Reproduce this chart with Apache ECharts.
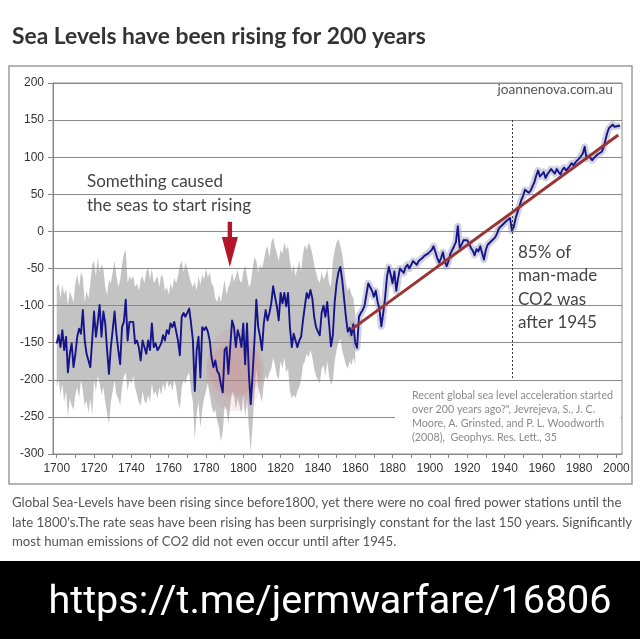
<!DOCTYPE html>
<html>
<head>
<meta charset="utf-8">
<script src="https://cdn.jsdelivr.net/npm/echarts@6/dist/echarts.min.js"></script>
<style>html,body{margin:0;padding:0;background:#fff;}#c{width:640px;height:639px;}</style>
</head>
<body>
<div id="c"></div>
<script>
// ---------------- DATA ----------------
const titleText = 'Sea Levels have been rising for 200 years';
const yTicks = [-300, -250, -200, -150, -100, -50, 0, 50, 100, 150, 200];
const xLabelYears = [1700,1720,1740,1760,1780,1800,1820,1840,1860,1880,1900,1920,1940,1960,1980,2000];
const xTickYears = [1700,1710,1720,1730,1740,1750,1760,1770,1780,1790,1800,1810,1820,1830,1840,1850,1860,1870,1880,1890,1900,1910,1920,1930,1940,1950,1960,1970,1980,1990,2000];

// yearly reconstruction 1700..1839 (mm)
const earlyStartYear = 1700;
const earlySeaLevel = [
 -151,-140,-156,-133,-160,-142,-190,-165,-151,-183,
 -165,-142,-131,-138,-106,-147,-165,-167,-183,-147,
 -108,-142,-122,-99,-142,-108,-124,-160,-192,-156,
 -133,-108,-138,-160,-179,-129,-122,-92,-147,-122,
 -124,-122,-151,-147,-156,-174,-147,-149,-165,-147,
 -160,-124,-156,-151,-160,-156,-151,-140,-147,-133,
 -138,-124,-129,-122,-124,-147,-167,-115,-110,-115,
 -113,-104,-124,-147,-215,-160,-142,-197,-129,-133,
 -129,-135,-147,-170,-183,-174,-188,-192,-206,-217,
 -160,-156,-192,-156,-120,-129,-156,-133,-142,-156,
 -124,-179,-124,-192,-233,-192,-147,-92,-129,-142,
 -160,-124,-106,-120,-110,-97,-74,-88,-101,-120,
 -83,-97,-83,-101,-83,-129,-156,-138,-147,-156,
 -147,-142,-120,-101,-83,-90,-79,-90,-115,-129
];
// 1840..2002 [year, mm]
const lateSeaLevel = [
 [1840,-135],[1841,-140],[1842,-110],[1843,-100],[1844,-115],[1845,-95],[1846,-125],[1847,-155],[1848,-140],[1849,-95],
 [1850,-70],[1851,-55],[1852,-48],[1853,-65],[1854,-90],[1855,-115],[1856,-135],[1857,-130],[1858,-140],[1859,-125],
 [1860,-150],[1861,-157],[1862,-115],[1863,-110],[1864,-106],[1865,-100],[1866,-85],[1867,-70],[1868,-68],[1869,-80],
 [1870,-88],[1871,-80],[1872,-95],[1873,-105],[1874,-128],[1875,-110],[1876,-90],[1877,-62],[1878,-48],[1879,-58],
 [1880,-70],[1881,-54],[1882,-80],[1883,-63],[1884,-50],[1885,-52],[1886,-56],[1887,-48],[1888,-45],[1889,-50],
 [1890,-48],[1891,-40],[1892,-38],[1893,-45],[1894,-40],[1895,-38],[1896,-36],[1897,-33],[1898,-32],[1899,-30],
 [1900,-28],[1901,-25],[1902,-20],[1903,-28],[1904,-36],[1905,-42],[1906,-36],[1907,-28],[1908,-40],[1909,-47],
 [1910,-40],[1911,-30],[1912,-28],[1913,-20],[1914,-14],[1915,7],[1916,-22],[1917,-18],[1918,-12],[1919,-13],
 [1920,-12],[1921,-16],[1922,-22],[1923,-26],[1924,-32],[1925,-24],[1926,-27],[1927,-20],[1928,-22],[1929,-38],
 [1930,-25],[1931,-18],[1932,-17],[1933,-13],[1934,-12],[1935,-8],[1936,-3],[1937,4],[1938,2],[1939,9],
 [1940,10],[1941,14],[1942,16],[1943,18],[1944,1],[1945,6],[1946,18],[1947,26],[1948,34],[1949,42],
 [1950,48],[1951,56],[1952,54],[1953,52],[1954,55],[1955,57],[1956,66],[1957,75],[1958,82],[1959,74],
 [1960,75],[1961,80],[1962,72],[1963,77],[1964,75],[1965,84],[1966,82],[1967,78],[1968,84],[1969,80],
 [1970,77],[1971,83],[1972,86],[1973,82],[1974,85],[1975,88],[1976,92],[1977,89],[1978,93],[1979,95],
 [1980,98],[1981,100],[1982,105],[1983,114],[1984,98],[1985,102],[1986,100],[1987,96],[1988,99],[1989,101],
 [1990,104],[1991,102],[1992,107],[1993,112],[1994,122],[1995,132],[1996,139],[1997,141],[1998,144],[1999,141],
 [2000,140],[2001,142],[2002,143]
];
// uncertainty envelope 1700..1860 (yearly)
const bandStartYear = 1700;
const bandUpper = [
 -75,-70,-90,-72,-85,-78,-100,-80,-88,-95,
 -70,-58,-75,-55,-62,-95,-80,-90,-70,-45,
 -40,-60,-35,-55,-45,-50,-75,-85,-65,-70,
 -55,-40,-60,-75,-65,-45,-30,-25,-70,-60,
 -65,-60,-75,-70,-80,-65,-60,-70,-55,-48,
 -65,-50,-70,-65,-60,-75,-58,-62,-80,-75,
 -85,-70,-78,-62,-70,-60,-45,-40,-55,-42,
 -50,-60,-70,-75,-68,-80,-60,-72,-58,-65,
 -50,-62,-55,-70,-75,-90,-95,-85,-95,-80,
 -65,-85,-75,-70,-55,-68,-60,-52,-65,-70,
 -55,-45,-60,-75,-70,-50,-35,-40,-55,-45,
 -50,-40,-25,-20,-35,-15,-8,-20,-30,-40,
 -25,-30,-15,-25,-20,-40,-55,-45,-60,-50,
 -40,-55,-30,-18,-25,-15,-20,-30,-45,-55,
 -65,-70,-55,-65,-60,-50,-70,-75,-40,-25,
 -15,-10,-20,-30,-50,-70,-80,-75,-85,-90,
 -110
];
const bandLower = [
 -210,-200,-220,-205,-230,-215,-250,-225,-235,-240,
 -220,-210,-225,-200,-215,-235,-228,-245,-225,-248,
 -200,-215,-195,-205,-220,-210,-230,-245,-260,-230,
 -215,-200,-220,-225,-235,-210,-195,-190,-215,-200,
 -205,-195,-210,-220,-230,-235,-215,-228,-232,-220,
 -230,-205,-220,-215,-225,-210,-220,-205,-215,-200,
 -210,-205,-215,-200,-210,-230,-240,-210,-200,-205,
 -195,-190,-215,-230,-280,-245,-230,-265,-240,-225,
 -215,-205,-220,-235,-245,-240,-255,-265,-283,-270,
 -235,-240,-260,-235,-215,-220,-240,-225,-235,-245,
 -220,-250,-225,-265,-297,-260,-220,-185,-210,-220,
 -230,-205,-195,-200,-190,-185,-170,-180,-195,-200,
 -175,-185,-170,-190,-185,-215,-225,-220,-225,-215,
 -210,-200,-180,-175,-165,-170,-160,-170,-185,-195,
 -200,-205,-185,-180,-195,-175,-195,-207,-200,-175,
 -160,-150,-145,-160,-170,-180,-185,-175,-180,-170,
 -180
];
const trendLine = [[1858,-132],[2001,130]];
const markerYear = 1944;          // dashed vertical line
const markerRange = [150, -200];
const arrowYear = 1792.8;          // red arrow
const arrowRange = [13, -48];
const circleCenter = [1795.6, -186];

const annot1 = 'Something caused\nthe seas to start rising';
const annot2 = '85% of\nman-made\nCO2 was\nafter 1945';
const sourceText = 'joannenova.com.au';
const citation = 'Recent global sea level acceleration started\nover 200 years ago?", Jevrejeva, S., J. C.\nMoore, A. Grinsted, and P. L. Woodworth\n(2008),  Geophys. Res. Lett., 35';
const caption = 'Global Sea-Levels have been rising since before1800, yet there were no coal fired power stations until the\nlate 1800\'s.The rate seas have been rising has been surprisingly constant for the last 150 years. Significantly\nmost human emissions of CO2 did not even occur until after 1945.';
const urlText = 'https://t.me/jermwarfare/16806';

// ---------------- BUILD ----------------
const seaLevel = earlySeaLevel.map((v, i) => [earlyStartYear + i, v]).concat(lateSeaLevel);
const haloData = seaLevel.filter(p => p[0] >= 1857);
const bandRows = bandUpper.map((v, i) => [bandStartYear + i, bandLower[i], v]);

const chart = echarts.init(document.getElementById('c'), null, {renderer: 'canvas'});
const lab = {fontFamily: 'Liberation Sans', fontSize: 12, color: '#333'};

function renderBand(params, api) {
  if (params.dataIndex !== 0) return null;
  const pts = [];
  for (let i = 0; i < bandRows.length; i++) pts.push(api.coord([bandRows[i][0], bandRows[i][2]]));
  for (let i = bandRows.length - 1; i >= 0; i--) pts.push(api.coord([bandRows[i][0], bandRows[i][1]]));
  return {type: 'polygon', shape: {points: pts}, style: {fill: 'rgba(135,135,135,0.5)'}};
}

chart.setOption({
  animation: false,
  backgroundColor: '#fff',
  grid: {left: 53, right: 18, top: 83, bottom: 185, show: true, borderColor: '#8a8a8a', borderWidth: 1, backgroundColor: 'transparent'},
  xAxis: {
    type: 'value', min: 1698, max: 2003,
    axisLine: {show: true, onZero: false, lineStyle: {color: '#888', width: 1}},
    axisTick: {show: true, customValues: xTickYears, length: 4, lineStyle: {color: '#888'}},
    axisLabel: Object.assign({customValues: xLabelYears, margin: 9, formatter: v => String(v)}, lab),
    splitLine: {show: false}
  },
  yAxis: {
    type: 'value', min: -300, max: 200, interval: 50,
    axisLine: {show: true, lineStyle: {color: '#888', width: 1}},
    axisTick: {show: true, length: 5, lineStyle: {color: '#888'}},
    axisLabel: Object.assign({margin: 9}, lab),
    splitLine: {show: true, lineStyle: {color: '#8a8a8a', width: 1.2}}
  },
  series: [
    {type: 'custom', name: 'band', data: bandRows, encode: {x: 0, y: [1, 2]}, renderItem: renderBand, z: 1, silent: true},
    {type: 'line', name: 'halo', data: haloData, symbol: 'none', lineStyle: {color: 'rgba(165,165,190,0.5)', width: 7, join: 'round'}, z: 3, silent: true},
    {type: 'line', name: 'sea', data: seaLevel, symbol: 'none', lineStyle: {color: '#16148a', width: 1.9, join: 'round'}, z: 4,
      markLine: {silent: true, symbol: 'none', label: {show: false},
        lineStyle: {color: '#333', width: 1, type: [2, 2]},
        data: [[{coord: [markerYear, markerRange[0]]}, {coord: [markerYear, markerRange[1]]}]]}},
    {type: 'line', name: 'trend', data: trendLine, symbol: 'none', lineStyle: {color: '#983534', width: 3}, z: 5}
  ]
});

function px(p) { return chart.convertToPixel({gridIndex: 0}, p); }
const cc = px(circleCenter);
const aTop = px([arrowYear, arrowRange[0]]);
const aTip = px([arrowYear, arrowRange[1]]);
const headTop = aTip[1] - 30;
const ax = aTop[0];

chart.setOption({
  graphic: {elements: [
    {type: 'rect', z: 0, silent: true, shape: {x: 9, y: 66, width: 623, height: 418}, style: {fill: 'none', stroke: '#9a9a9a', lineWidth: 1.5}},
    {type: 'rect', z: 1, silent: true, shape: {x: 395, y: 383, width: 226, height: 66}, style: {fill: '#fff'}},
    {type: 'ellipse', z: 2, silent: true, shape: {cx: cc[0], cy: cc[1], rx: 29, ry: 42},
      style: {fill: {type: 'radial', x: 0.5, y: 0.5, r: 0.5, colorStops: [{offset: 0, color: 'rgba(205,115,125,0.4)'}, {offset: 0.85, color: 'rgba(205,115,125,0.32)'}, {offset: 1, color: 'rgba(205,115,125,0.12)'}]}}},
    {type: 'polygon', z: 6, silent: true, shape: {points: [[ax - 2.2, aTop[1]], [ax + 2.2, aTop[1]], [ax + 2.2, headTop], [ax + 8, headTop], [ax, aTip[1]], [ax - 8, headTop], [ax - 2.2, headTop]]}, style: {fill: '#b3152b'}},
    {type: 'text', z: 10, silent: true, style: {text: titleText, x: 12, y: 37, font: 'bold 22.8px Lato', fill: '#333', verticalAlign: 'middle'}},
    {type: 'text', z: 10, silent: true, style: {text: annot1, x: 87, y: 170, font: '17px Lato', fill: '#444', lineHeight: 24, verticalAlign: 'top'}},
    {type: 'text', z: 10, silent: true, style: {text: annot2, x: 518, y: 241, font: '17px Lato', fill: '#444', lineHeight: 23.3, verticalAlign: 'top'}},
    {type: 'text', z: 10, silent: true, style: {text: sourceText, x: 613, y: 90, font: '13.7px Lato', fill: '#555', align: 'right', verticalAlign: 'middle'}},
    {type: 'text', z: 10, silent: true, style: {text: citation, x: 412, y: 388, font: '10.7px Lato', fill: '#8a8a8a', lineHeight: 14.3, verticalAlign: 'top'}},
    {type: 'text', z: 10, silent: true, style: {text: caption, x: 12, y: 493, font: '13.2px Lato', fill: '#555', lineHeight: 19.5, verticalAlign: 'top'}},
    {type: 'rect', z: 10, silent: true, shape: {x: 0, y: 561, width: 640, height: 78}, style: {fill: '#000'}},
    {type: 'text', z: 11, silent: true, style: {text: urlText, x: 330, y: 603, font: '39.5px Roboto', fill: '#fff', align: 'center', verticalAlign: 'middle'}}
  ]}
});
</script>
</body>
</html>
